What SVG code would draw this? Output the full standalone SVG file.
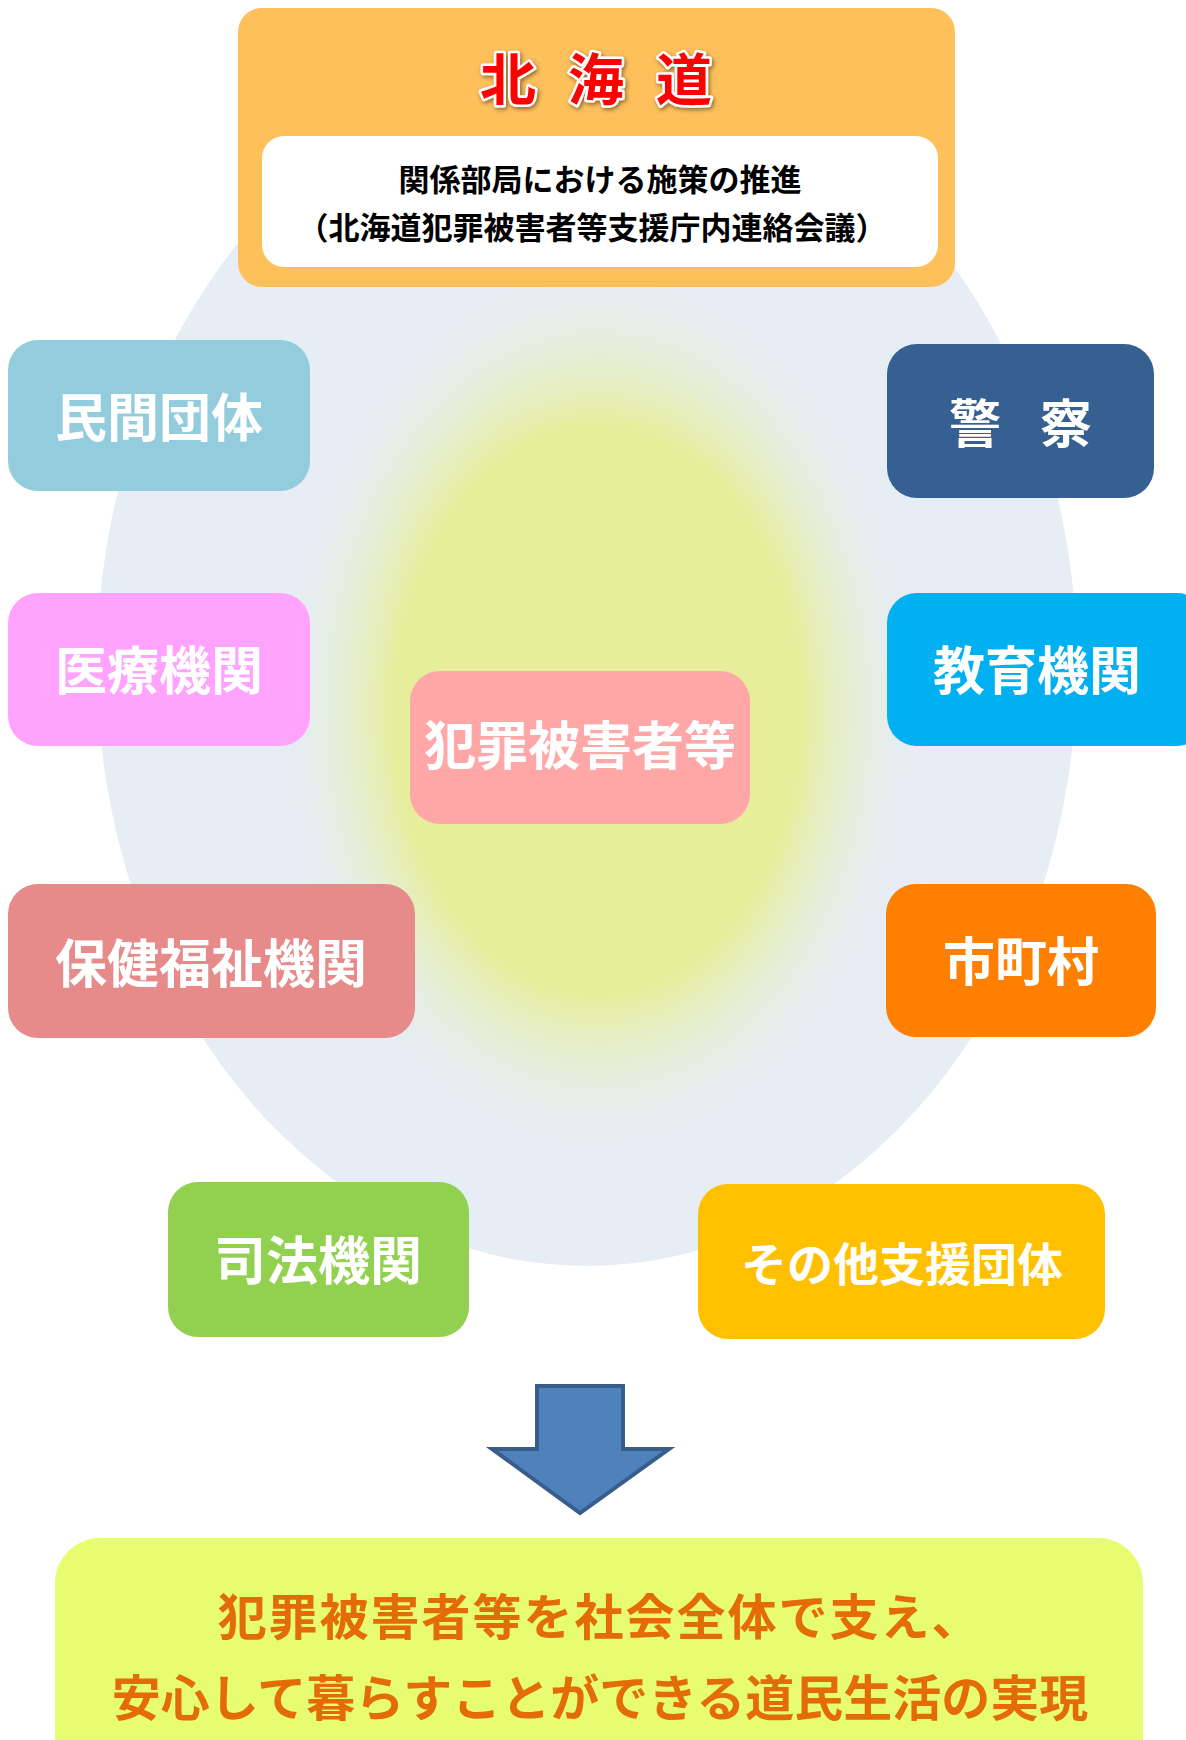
<svg xmlns="http://www.w3.org/2000/svg" width="1186" height="1740" viewBox="0 0 1186 1740">
<style>
.cjk{font-family:"Noto Sans CJK JP","Noto Sans CJK SC",sans-serif;font-weight:bold}
.node text{fill:#FFFFFF;font-size:52px;text-anchor:middle}
.sub{fill:#000000;font-size:31px;text-anchor:middle}
.goal{fill:#E36C09;font-size:49px;text-anchor:middle}
</style>
<defs>
<radialGradient id="glow" cx="0.5" cy="0.5" r="0.5">
<stop offset="0" stop-color="#E6EE9C" stop-opacity="1"/>
<stop offset="0.62" stop-color="#E6EE9C" stop-opacity="1"/>
<stop offset="1" stop-color="#E6EDF5" stop-opacity="0"/>
</radialGradient>
<filter id="shadow" x="-20%" y="-20%" width="140%" height="140%">
<feDropShadow dx="1.5" dy="2" stdDeviation="2" flood-color="#000000" flood-opacity="0.45"/>
</filter>
</defs>
<g id="background">
<ellipse cx="587" cy="665" rx="490" ry="601" fill="#E6EDF5"/>
<ellipse cx="598" cy="710" rx="330" ry="460" fill="url(#glow)"/>
</g>
<g id="hokkaido" class="cjk">
<rect x="238" y="8" width="717" height="279" rx="24" fill="#FEC05B"/>
<text x="508 552 596 640 684" y="100" font-size="56" text-anchor="middle" fill="#FF0000" stroke="#FFFFFF" stroke-width="5" paint-order="stroke" stroke-linejoin="round" filter="url(#shadow)">北 海 道</text>
<rect x="262" y="136" width="676" height="131" rx="22" fill="#FFFFFF"/>
<text class="sub" x="600" y="191">関係部局における施策の推進</text>
<text class="sub" x="592" y="239">（北海道犯罪被害者等支援庁内連絡会議）</text>
</g>
<g id="connectors"/>
<g id="minkan" class="node cjk">
<rect x="8" y="340" width="302" height="151" rx="30" fill="#93CDDD"/>
<text x="159" y="437">民間団体</text>
</g>
<g id="keisatsu" class="node cjk">
<rect x="887" y="344" width="267" height="154" rx="30" fill="#376092"/>
<text x="975 1020 1066" y="443">警　察</text>
</g>
<g id="iryo" class="node cjk">
<rect x="8" y="593" width="302" height="153" rx="30" fill="#FFA3FF"/>
<text x="159" y="690">医療機関</text>
</g>
<g id="kyoiku" class="node cjk">
<rect x="887" y="593" width="320" height="153" rx="30" fill="#00B0F0"/>
<text x="1037" y="690">教育機関</text>
</g>
<g id="higaisha" class="node cjk">
<rect x="410" y="671" width="340" height="153" rx="30" fill="#FFA6A6"/>
<text x="580" y="765">犯罪被害者等</text>
</g>
<g id="hoken" class="node cjk">
<rect x="8" y="884" width="407" height="154" rx="30" fill="#E68B8A"/>
<text x="211" y="983">保健福祉機関</text>
</g>
<g id="shichoson" class="node cjk">
<rect x="886" y="884" width="270" height="153" rx="30" fill="#FF8000"/>
<text x="1021" y="981">市町村</text>
</g>
<g id="shiho" class="node cjk">
<rect x="168" y="1182" width="301" height="155" rx="30" fill="#92D050"/>
<text x="318" y="1280">司法機関</text>
</g>
<g id="sonota" class="node cjk">
<rect x="698" y="1184" width="407" height="155" rx="30" fill="#FFC000"/>
<text x="902" y="1281" style="font-size:46px">その他支援団体</text>
</g>
<g id="arrow">
<polygon points="537,1386 623,1386 623,1449 669,1449 580,1513 492,1449 537,1449" fill="#4F81BD" stroke="#385D8A" stroke-width="4" stroke-linejoin="miter"/>
</g>
<g id="goal" class="cjk">
<rect x="55" y="1538" width="1088" height="260" rx="45" fill="#E8FC71"/>
<text class="goal" x="600" y="1635" letter-spacing="2">犯罪被害者等を社会全体で支え、</text>
<text class="goal" x="600" y="1716">安心して暮らすことができる道民生活の実現</text>
</g>
</svg>
